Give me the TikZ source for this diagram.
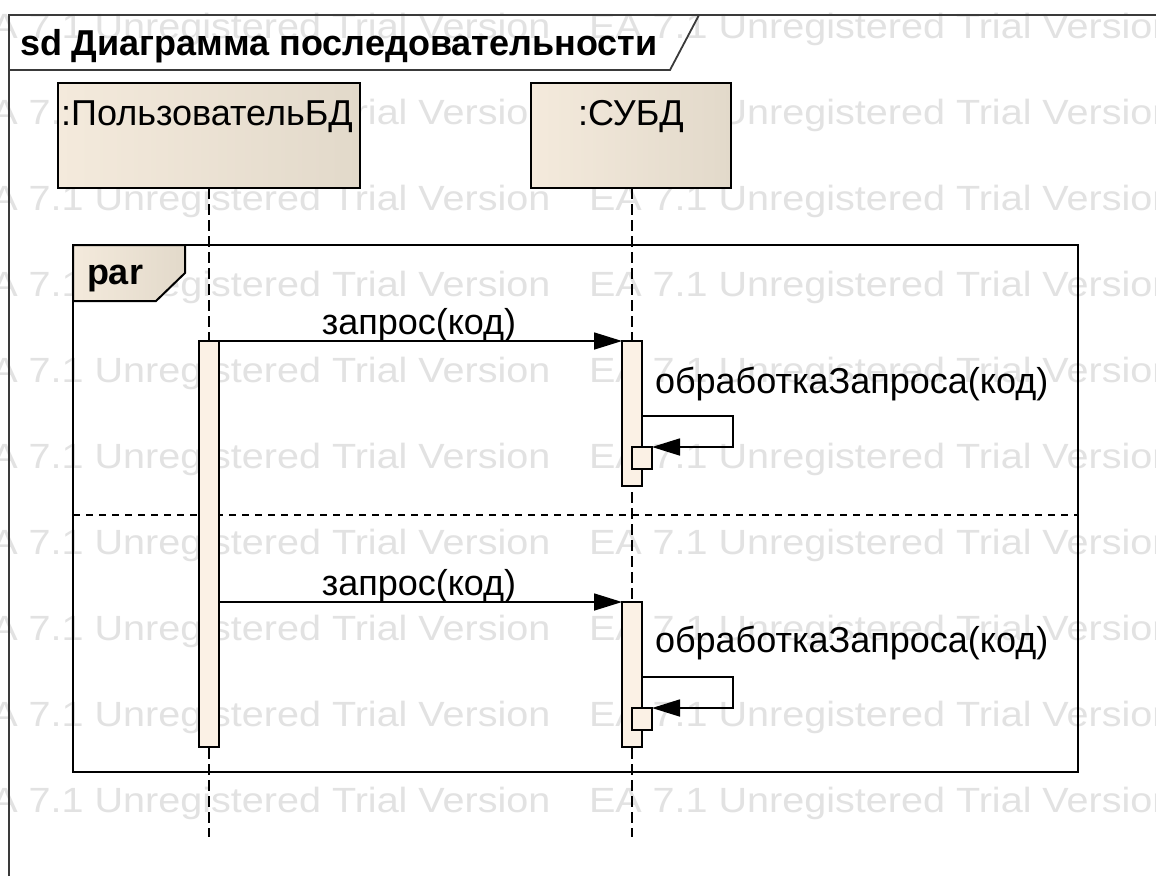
\documentclass[tikz,border=0pt]{standalone}
\usepackage{fontspec}
\setmainfont{Liberation Sans}
\usetikzlibrary{arrows.meta}
\definecolor{wm}{HTML}{E2E2E2}
\definecolor{hdA}{HTML}{F4EADC}
\definecolor{hdB}{HTML}{FBF2E7}
\definecolor{hdC}{HTML}{E2D9CA}
\definecolor{actfill}{HTML}{FBF1E5}
\definecolor{frm}{HTML}{3A3A3A}
\begin{document}
\begin{tikzpicture}[x=1pt,y=-1pt,
  every node/.style={inner sep=0pt, outer sep=0pt},
  big/.style={font=\fontsize{36}{43}\selectfont},
  bigbold/.style={font=\fontsize{36}{43}\selectfont\bfseries},
  wmark/.style={text=wm, font=\fontsize{35}{42}\selectfont, anchor=base west, xscale=1.13},
  headbox/.style={draw=black, line width=2pt, left color=hdA, middle color=hdB, right color=hdC, anchor=north west},
  actbar/.style={draw=black, line width=2pt, fill=actfill},
  lifeline/.style={draw=black, line width=2pt, dash pattern=on 11pt off 5pt},
  msg/.style={draw=black, line width=1.7pt, -{Triangle[length=28pt,width=17pt]}},
  framebox/.style={draw=black, line width=2.2pt},
  divider/.style={draw=black, line width=1.7pt, dash pattern=on 7pt off 6pt},
  outer/.style={draw=frm, line width=1.8pt}]
\useasboundingbox (0,0) rectangle (1156,876);
\clip (0,0) rectangle (1156,876);
\fill[white] (0,0) rectangle (1156,876);
% watermark
\foreach \k in {0,...,9} {
  \foreach \j in {0,1} {
    \node[wmark] (wm\k\j) at ({-35+624*\j},{38+86*\k}) {EA 7.1 Unregistered Trial Version};
  }
}
% outer diagram frame
\coordinate (fbl) at (9,876);
\coordinate (ftl) at (9,15);
\coordinate (ftr) at (1156,15);
\coordinate (tab1) at (9,70);
\coordinate (tab2) at (670,70);
\coordinate (tab3) at (699,15);
\draw[outer] (fbl) -- (ftl) -- (ftr);
\draw[outer] (tab1) -- (tab2) -- (tab3);
\node[bigbold, anchor=base west] (title) at (20,55) {sd Диаграмма последовательности};
% lifeline heads
\node[headbox, minimum width=302pt, minimum height=105pt] (u) at (58,83) {};
\node[big, anchor=base] (ut) at (207,125) {:ПользовательБД};
\node[headbox, minimum width=200pt, minimum height=105pt] (s) at (531,83) {};
\node[big, anchor=base] (st) at (631,125) {:СУБД};
% lifelines
\coordinate (uend) at (209,837);
\coordinate (send) at (632,837);
\draw[lifeline] (u.south) -- (uend);
\draw[lifeline] (s.south -| send) -- (send);
% par fragment
\node[framebox, minimum width=1005pt, minimum height=527pt, anchor=north west] (par) at (73,245) {};
\coordinate (dl) at (73,515);
\coordinate (dr) at (1078,515);
\draw[divider] (dl) -- (dr);
\path[draw=black, line width=2pt, left color=hdA, middle color=hdB, right color=hdC]
  (73,245) -- (185,245) -- (185,273) -- (156,301) -- (73,301) -- cycle;
\node[bigbold, anchor=base west] (partxt) at (87,284) {par};
% activations
\node[actbar, minimum width=20pt, minimum height=406pt, anchor=north] (ua) at (208.5,341) {};
\node[actbar, minimum width=20pt, minimum height=145pt, anchor=north] (sa1) at (632,341) {};
\node[actbar, minimum width=20pt, minimum height=22pt, anchor=north west] (sm1) at (632,447) {};
\node[actbar, minimum width=20pt, minimum height=145pt, anchor=north] (sa2) at (632,602) {};
\node[actbar, minimum width=20pt, minimum height=22pt, anchor=north west] (sm2) at (632,708) {};
% messages
\draw[msg] (ua.north east) -- (sa1.north west);
\node[big, anchor=base] (m1) at (419,334) {запрос(код)};
\coordinate (s1a) at (733,416);
\coordinate (s1b) at (733,447);
\draw[msg] (sa1.north east |- s1a) -- (s1a) -- (s1b) -- (sm1.north east);
\node[big, anchor=base west] (m2) at (655,393) {обработкаЗапроса(код)};
\coordinate (u2) at (208.5,602);
\draw[msg] (ua.east |- u2) -- (sa2.north west);
\node[big, anchor=base] (m3) at (419,595) {запрос(код)};
\coordinate (s2a) at (733,677);
\coordinate (s2b) at (733,708);
\draw[msg] (sa2.north east |- s2a) -- (s2a) -- (s2b) -- (sm2.north east);
\node[big, anchor=base west] (m4) at (655,652) {обработкаЗапроса(код)};
\end{tikzpicture}
\end{document}
